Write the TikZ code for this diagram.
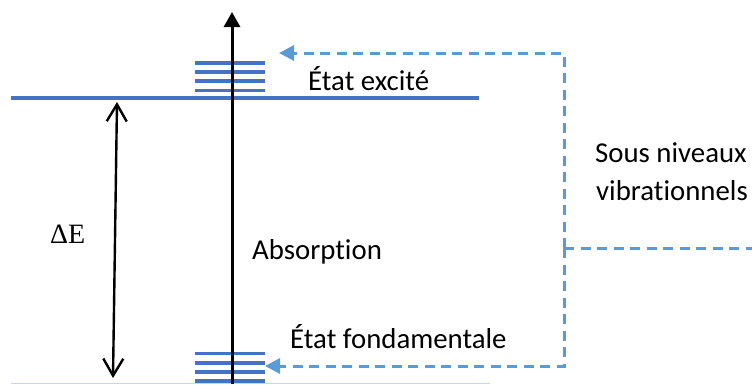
\documentclass[tikz,border=0pt]{standalone}
\usepackage{fontspec}
\setmainfont[Ligatures=NoCommon]{Carlito}
\newfontfamily\serifE{Liberation Serif}
\usetikzlibrary{arrows.meta}
\definecolor{lvl}{HTML}{4472C4}
\definecolor{dsh}{HTML}{5B9BD5}
\definecolor{basecol}{HTML}{CAD6E3}
\begin{document}
\begin{tikzpicture}[x=1pt,y=-1pt,
  levelline/.style={draw=lvl, line width=4pt},
  subline/.style={draw=lvl, line width=3.8pt},
  dline/.style={draw=dsh, line width=3pt, dash pattern=on 10pt off 6.5pt},
  dtip/.style={-{Triangle[length=15pt,width=15pt]}},
  lbl/.style={anchor=base west, inner sep=0pt, font=\fontsize{28.8}{34}\selectfont}]
\useasboundingbox (0,0) rectangle (752,384);
% main levels
\coordinate (eL) at (11,98);
\coordinate (eR) at (479,98);
\draw[levelline] (eL) -- (eR);
\coordinate (gL) at (11,383.5);
\coordinate (gR) at (490,383.5);
\draw[draw=basecol, line width=1.6pt] (gL) -- (gR);
% vibrational sub-levels
\foreach \y in {63,72,81,90.5} {\draw[subline] (195,\y) -- (265,\y);}
\foreach \y in {353.5,363,372,381} {\draw[subline] (195,\y) -- (265,\y);}
% absorption arrow
\coordinate (ab0) at (232,384);
\coordinate (ab1) at (232,12);
\draw[line width=3pt, -{Triangle[length=15pt,width=16pt]}] (ab0) -- (ab1);
% Delta E arrow
\coordinate (de0) at (117,102);
\coordinate (de1) at (113,378);
\draw[line width=2.4pt, {Straight Barb[length=17pt,width=20pt]}-{Straight Barb[length=17pt,width=20pt]}] (de0) -- (de1);
% dashed brackets
\coordinate (jn) at (564,248);
\coordinate (te) at (279,53);
\coordinate (tf) at (265,366);
\coordinate (rt) at (752,248);
\draw[dline, dtip] (jn) |- (te);
\draw[dline, dtip] (jn) |- (tf);
\draw[dline] (jn) -- (rt);
% labels
\node[lbl] (excite) at (308,90) {État excité};
\node[lbl] (absorp) at (252,259) {Absorption};
\node[lbl] (fond) at (290,348) {État fondamentale};
\node[lbl] (sous) at (595,162) {Sous niveaux};
\node[lbl] (vib) at (596,200) {vibrationnels};
\node[anchor=base west, inner sep=0pt, font=\serifE\fontsize{28}{32}\selectfont] (dE) at (50,243) {ΔE};
\end{tikzpicture}
\end{document}
